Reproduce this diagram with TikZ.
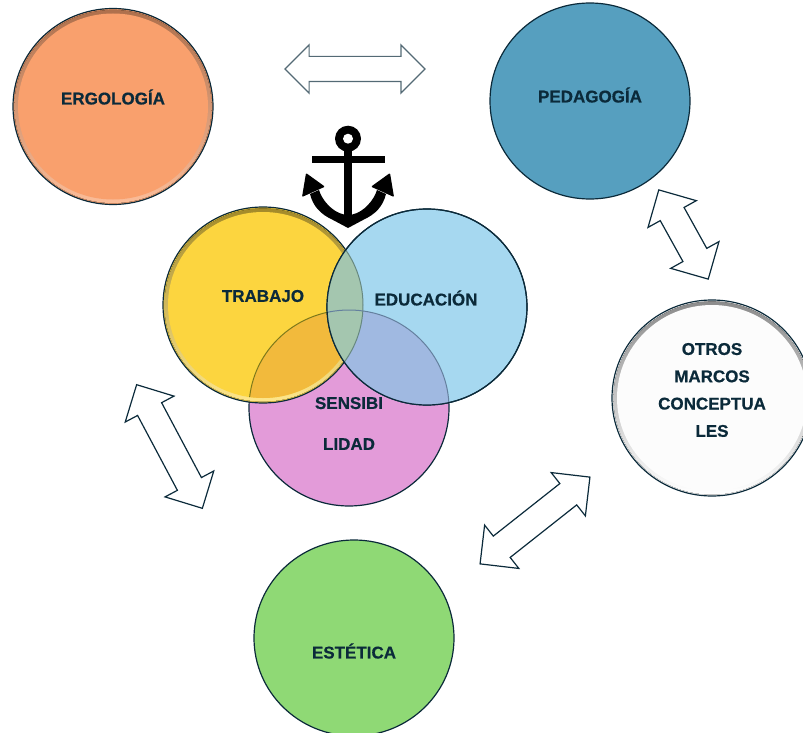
\documentclass[tikz,border=0pt]{standalone}
\usepackage{fontspec}
\setmainfont[BoldFeatures={FakeBold=0.6}]{Liberation Sans}
\usetikzlibrary{shapes.geometric,shapes.arrows}
\definecolor{tinta}{HTML}{0B2A3A}
\definecolor{naranja}{HTML}{F9A06D}
\definecolor{azul}{HTML}{569FBF}
\definecolor{amarillo}{HTML}{FCD53F}
\definecolor{celeste}{HTML}{A6D8F0}
\definecolor{rosa}{HTML}{E39BD9}
\definecolor{verde}{HTML}{8FD975}
\definecolor{casiblanco}{HTML}{FCFCFC}
\definecolor{cruceNaranja}{HTML}{F2BA3C}
\definecolor{cruceVerde}{HTML}{A4C6AF}
\definecolor{cruceAzul}{HTML}{A0B9E1}
\tikzset{
    circulo/.style={ellipse, draw=tinta, line width=1.2pt, inner sep=0pt, outer sep=0pt,
        minimum width=200pt, minimum height=196pt},
    rotulo/.style={text=tinta, align=center, inner sep=0pt, font=\fontsize{17}{20}\selectfont\bfseries},
    flecha/.style={double arrow, draw=tinta, line width=1.2pt, inner sep=13pt, outer sep=0pt,
        minimum height=140pt, minimum width=54pt, double arrow head extend=14pt,
        double arrow tip angle=90, double arrow head indent=0pt}
}
\begin{document}
\begin{tikzpicture}[x=1pt,y=-1pt]
    \def \rx {100pt}
    \def \ry {98pt}
    \path[use as bounding box, clip] (0,0) rectangle (803,733);
    % the circles, from the bottom up
    \node[circulo, fill=naranja] (ergologia) at (113,106.5) {};
    \node[circulo, fill=azul] (pedagogia) at (590,101) {};
    \node[circulo, fill=casiblanco] (otros) at (712,398) {};
    \node[circulo, fill=verde] (estetica) at (354,638) {};
    \node[circulo, fill=rosa] (sensibilidad) at (349,408) {};
    \node[circulo, fill=amarillo] (trabajo) at (263,305) {};
    \def \elSensib {(sensibilidad.center) ellipse [x radius=\rx, y radius=\ry]}
    \def \elTrabajo {(trabajo.center) ellipse [x radius=\rx, y radius=\ry]}
    \def \elInterior {(trabajo.center) ellipse [x radius=95pt, y radius=93pt]}
    % the raised rims
    \foreach \nodo/\arriba/\abajo/\relleno in {ergologia/black!30!naranja/naranja!70!white/naranja,
        otros/black!45/white/casiblanco, trabajo/black!35!amarillo/amarillo!60!white/amarillo}
    {
      \fill[top color=\arriba, bottom color=\abajo] (\nodo.center) ellipse [x radius=98.6pt, y radius=96.6pt];
      \fill[\relleno] (\nodo.center) ellipse [x radius=95pt, y radius=93pt];
    }
    \begin{scope}
      \clip \elInterior;
      \fill[cruceNaranja] \elSensib;
      \draw[olive!80!tinta, line width=1pt] \elSensib;
    \end{scope}
    \node[circulo, fill=celeste] (educacion) at (427,307) {};
    \def \elEducacion {(educacion.center) ellipse [x radius=\rx, y radius=\ry]}
    \begin{scope}
      \clip \elEducacion;
      \fill[cruceAzul] \elSensib;
      \fill[cruceVerde] \elTrabajo;
      \draw[tinta!40!cruceVerde, line width=1pt] \elTrabajo;
      \draw[tinta!40!cruceAzul, line width=1pt] \elSensib;
    \end{scope}
    \draw[tinta, line width=1.2pt] \elEducacion;
    % the arrows
    \node[flecha, draw=tinta!70, fill=white, inner sep=12pt, minimum width=47pt,
        double arrow head extend=11.5pt] (flechaArriba) at (355,69) {};
    \node[flecha, minimum height=102pt, rotate=-61] (flechaDerecha) at (683.5,234.5) {};
    \node[flecha, rotate=-62] (flechaIzquierda) at (169.5,446.5) {};
    \node[flecha, rotate=38.3] (flechaAbajo) at (535,520.5) {};
    % the anchor
    \fill[black] (348,138.7) circle (13pt);
    \fill[white] (348,138.7) circle (5pt);
    \fill[black] (311.7,155.7) rectangle (384.7,163.3);
    \fill[black] (344,145) rectangle (352.3,225);
    \fill[black] (348,228) -- (333,220) .. controls (320,214) and (313,206) .. (310,194)
        -- (319,190) .. controls (322,200) and (332,212) .. (344,214.5) -- (352.3,214.5)
        .. controls (364,212) and (374,200) .. (377,190) -- (386,194)
        .. controls (383,206) and (376,214) .. (363,220) -- cycle;
    \fill[black, rounded corners=1pt] (306,173) -- (325,186.7) -- (302,197) -- cycle;
    \fill[black, rounded corners=1pt] (390,173) -- (371,186.7) -- (394,197) -- cycle;
    % the labels
    \node[rotulo] (txtErgologia) at (113,97) {ERGOLOGÍA};
    \node[rotulo] (txtPedagogia) at (590,95) {PEDAGOGÍA};
    \node[rotulo] (txtTrabajo) at (263,296) {TRABAJO};
    \node[rotulo] (txtEducacion) at (426,298) {EDUCACIÓN};
    \node[rotulo] (txtSensib) at (349,423.5) {SENSIBI\\[21pt]LIDAD};
    \node[rotulo] (txtOtros) at (712,390) {OTROS\\[7.3pt]MARCOS\\[7.3pt]CONCEPTUA\\[7.3pt]LES};
    \node[rotulo] (txtEstetica) at (354,651) {ESTÉTICA};
\end{tikzpicture}
\end{document}
